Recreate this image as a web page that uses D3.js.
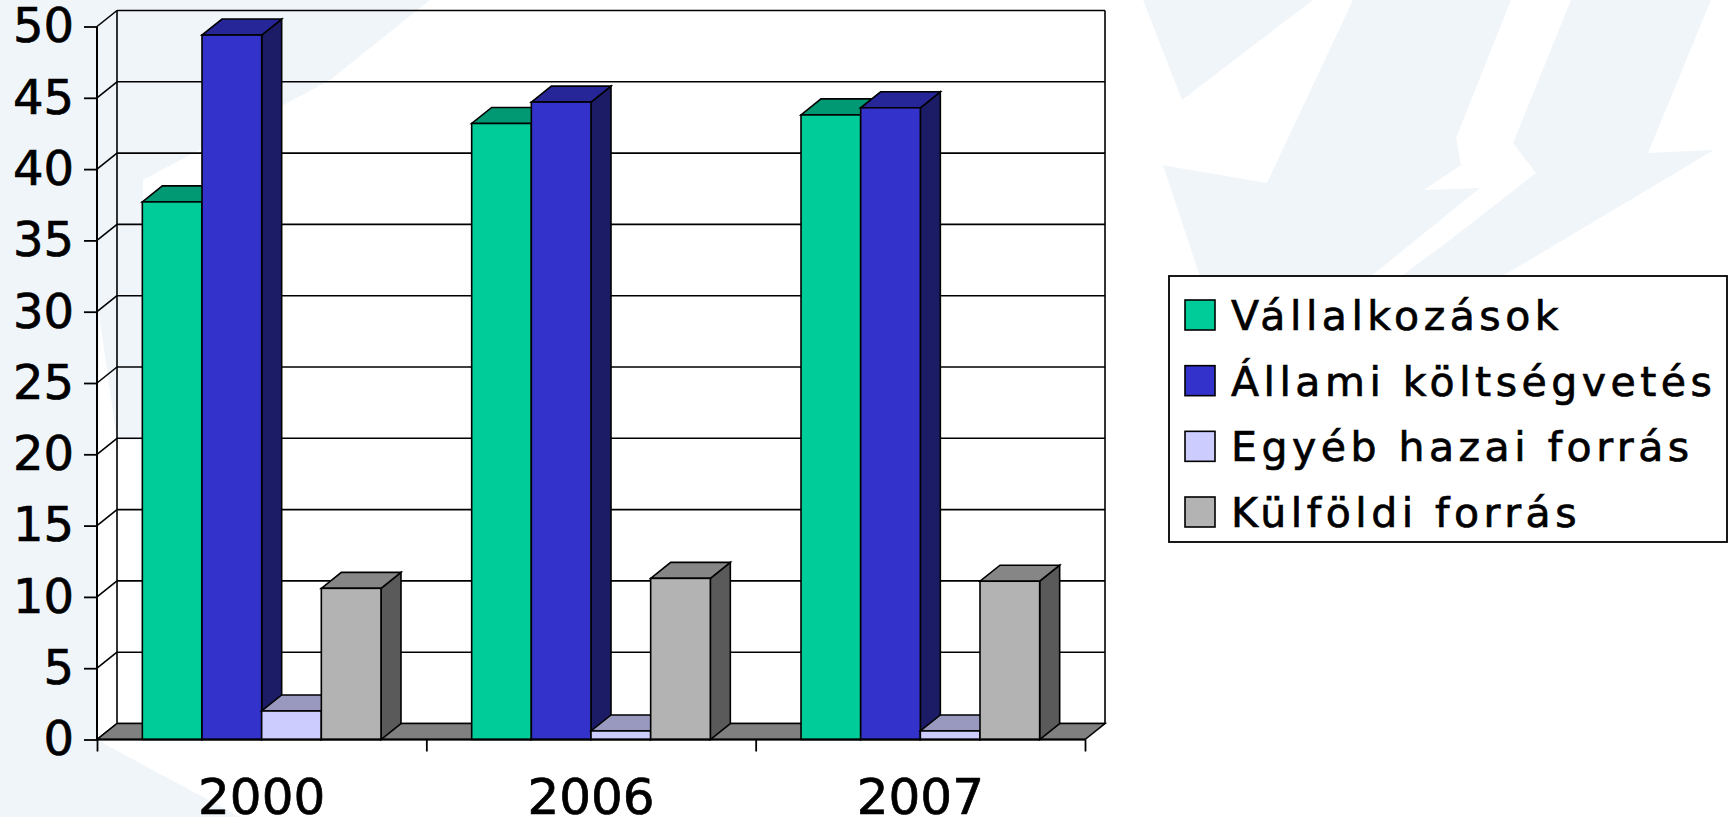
<!DOCTYPE html>
<html>
<head>
<meta charset="utf-8">
<script src="https://cdn.jsdelivr.net/npm/d3@7"></script>
<style>
  html, body { margin: 0; padding: 0; background: #fff; }
  svg { display: block; }
  text { font-family: "DejaVu Sans", "Noto Sans", sans-serif; fill: #000; stroke: #000; stroke-width: 0.7px; }
</style>
</head>
<body>
<svg id="chart" width="1731" height="817"></svg>
<script>
// kategoriak es sorozatok
const years = ["2000", "2006", "2007"];
const seriesNames = ["Vállalkozások", "Állami költségvetés", "Egyéb hazai forrás", "Külföldi forrás"];
const vallalkozasok = [37.7, 43.2, 43.8];
const allami = [49.4, 44.7, 44.3];
const egyeb = [2.0, 0.6, 0.6];
const kulfoldi = [10.6, 11.3, 11.1];
const yTicks = [0, 5, 10, 15, 20, 25, 30, 35, 40, 45, 50];

const values = [vallalkozasok, allami, egyeb, kulfoldi];

// szinek: elolap, teteje, oldala
const FRONT = ["#00cc99", "#3333cc", "#ccccff", "#b3b3b3"];
const TOP = ["#009973", "#262699", "#9999c0", "#868686"];
const SIDE = ["#006b50", "#1c1c66", "#66667f", "#5a5a5a"];

const DX = 20;
const DY = 16;
const PALE = "#f0f5fa";

// halvany logo a hatterben (elobb a halvany foltok, aztan a feher csikok)
const watermarkPale = [
  [[0, 0], [100, 0], [97, 740], [240, 817], [0, 817]],
  [[97, 0], [430, 0], [330, 80], [143, 180], [143, 440], [117, 440], [97, 300]],
  [[1143, 0], [1711, 0], [1648, 153], [1714, 150], [1501, 277], [1200, 277], [1163, 165], [1182, 100]],
];
const watermarkWhite = [
  [[1313, 0], [1353, 0], [1267, 183], [1150, 163], [1182, 100]],
  [[1511, 0], [1571, 0], [1513, 143], [1536, 173], [1450, 240], [1400, 277], [1370, 277], [1480, 188], [1424, 190], [1461, 165], [1456, 138]],
];

const svg = d3.select("#chart");

const y = d3.scaleLinear().domain([0, 50]).range([739.5, 26.5]);
const x0 = d3.scaleBand().domain(years).range([97, 1085]);
const x1 = d3.scaleBand().domain(seriesNames).range([0, x0.bandwidth()]).paddingOuter(0.76);

const xLeft = 97;
const xRight = 1085;
const pts = (arr) => arr.map((p) => p.join(",")).join(" ");

const bg = svg.append("g");
bg.selectAll("polygon.pale")
  .data(watermarkPale)
  .join("polygon")
  .attr("class", "pale")
  .attr("points", pts)
  .attr("fill", PALE);
bg.selectAll("polygon.white")
  .data(watermarkWhite)
  .join("polygon")
  .attr("class", "white")
  .attr("points", pts)
  .attr("fill", "#fff");

const stroke = (sel, w = 1.6) => sel.attr("stroke", "#000").attr("stroke-width", w).attr("stroke-linejoin", "miter");

// hatso fal es racsvonalak
const grid = svg.append("g");
grid.selectAll("line.back")
  .data(yTicks)
  .join("line")
  .attr("class", "back")
  .attr("x1", xLeft + DX)
  .attr("x2", xRight + DX)
  .attr("y1", (d) => y(d) - DY)
  .attr("y2", (d) => y(d) - DY)
  .call(stroke);
grid.selectAll("line.side")
  .data(yTicks)
  .join("line")
  .attr("class", "side")
  .attr("x1", xLeft)
  .attr("x2", xLeft + DX)
  .attr("y1", (d) => y(d))
  .attr("y2", (d) => y(d) - DY)
  .call(stroke);
grid.append("line")
  .attr("x1", xLeft + DX).attr("x2", xLeft + DX)
  .attr("y1", y(50) - DY).attr("y2", y(0) - DY)
  .call(stroke);
grid.append("line")
  .attr("x1", xRight + DX).attr("x2", xRight + DX)
  .attr("y1", y(50) - DY).attr("y2", y(0) - DY)
  .call(stroke);

// padlo
svg.append("polygon")
  .attr("points", pts([[xLeft, y(0)], [xRight, y(0)], [xRight + DX, y(0) - DY], [xLeft + DX, y(0) - DY]]))
  .attr("fill", "#808080")
  .call(stroke);

// oszlopok balrol jobbra, hogy a kovetkezo takarja az elozo oldalat
const bars = [];
years.forEach((yr, i) => {
  seriesNames.forEach((s, j) => {
    bars.push({ year: yr, series: s, j, value: values[j][i] });
  });
});

const w = x1.bandwidth();
const yb = y(0);
const barG = svg.append("g")
  .selectAll("g")
  .data(bars)
  .join("g");

barG.append("polygon")
  .attr("points", (d) => {
    const L = x0(d.year) + x1(d.series);
    const yt = y(d.value);
    return pts([[L + w, yt], [L + w + DX, yt - DY], [L + w + DX, yb - DY], [L + w, yb]]);
  })
  .attr("fill", (d) => SIDE[d.j])
  .call(stroke);
barG.append("polygon")
  .attr("points", (d) => {
    const L = x0(d.year) + x1(d.series);
    const yt = y(d.value);
    return pts([[L, yt], [L + w, yt], [L + w + DX, yt - DY], [L + DX, yt - DY]]);
  })
  .attr("fill", (d) => TOP[d.j])
  .call(stroke);
barG.append("rect")
  .attr("x", (d) => x0(d.year) + x1(d.series))
  .attr("y", (d) => y(d.value))
  .attr("width", w)
  .attr("height", (d) => yb - y(d.value))
  .attr("fill", (d) => FRONT[d.j])
  .call(stroke);

// tengelyek
const yAxis = d3.axisLeft(y).tickValues(yTicks).tickSize(13).tickPadding(10);
svg.append("g")
  .attr("transform", `translate(${xLeft},0)`)
  .call(yAxis)
  .call((g) => g.select(".domain").attr("stroke", "#000").attr("stroke-width", 2).attr("d", `M-0,${y(50)}V${y(0)}`))
  .call((g) => g.selectAll(".tick line").attr("stroke", "#000").attr("stroke-width", 1.8))
  .call((g) => g.selectAll(".tick text").attr("font-size", 48).attr("font-family", "DejaVu Sans").attr("fill", "#000"));

const xAxis = d3.axisBottom(d3.scaleLinear().domain([0, 3]).range([xLeft, xRight])).tickValues([0, 1, 2, 3]).tickSize(12).tickFormat("");
svg.append("g")
  .attr("transform", `translate(0,${yb})`)
  .call(xAxis)
  .call((g) => g.select(".domain").attr("stroke", "#000").attr("stroke-width", 2).attr("d", `M${xLeft},0H${xRight}`))
  .call((g) => g.selectAll(".tick line").attr("stroke", "#000").attr("stroke-width", 1.8));

svg.append("g")
  .selectAll("text")
  .data(years)
  .join("text")
  .attr("x", (d) => x0(d) + x0.bandwidth() / 2)
  .attr("y", 814)
  .attr("text-anchor", "middle")
  .attr("font-size", 50)
  .text((d) => d);

// jelmagyarazat
const legend = svg.append("g");
legend.append("rect")
  .attr("x", 1169).attr("y", 276).attr("width", 558).attr("height", 266)
  .attr("fill", "#fff")
  .call(stroke, 1.8);
const ly = d3.scalePoint().domain(seriesNames).range([315, 512]);
const item = legend.selectAll("g.item")
  .data(seriesNames)
  .join("g")
  .attr("class", "item");
item.append("rect")
  .attr("x", 1185)
  .attr("y", (d) => ly(d) - 15)
  .attr("width", 30)
  .attr("height", 30)
  .attr("fill", (d, i) => FRONT[i])
  .call(stroke, 1.6);
item.append("text")
  .attr("x", 1231)
  .attr("y", (d) => ly(d) + 15)
  .attr("font-size", 41)
  .attr("letter-spacing", 4.5)
  .text((d) => d);
</script>
</body>
</html>
